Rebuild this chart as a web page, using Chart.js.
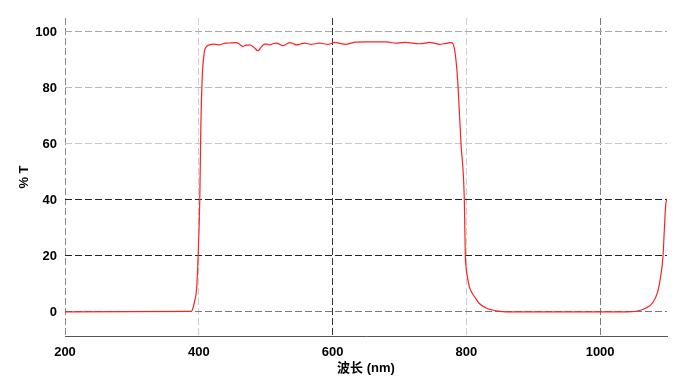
<!DOCTYPE html>
<html>
<head>
<meta charset="utf-8">
<script src="https://cdn.jsdelivr.net/npm/chart.js@4/dist/chart.umd.min.js"></script>
<style>
  html, body { margin: 0; padding: 0; background: #fff; }
  #wrap { width: 699px; height: 383px; position: relative; }
</style>
</head>
<body>
<div id="wrap"><canvas id="specChart"></canvas></div>
<script>
// 波长 (nm)
const wavelengths = [
    200, 389, 391.5, 394, 396.6, 399, 401.5, 403, 405, 408, 411.5, 416, 421, 426, 431, 436, 441, 448,
    456, 461, 466, 471, 476, 482, 488.5, 493, 498.5, 502, 506, 511, 516, 521, 526, 531, 536, 541,
    546, 552, 558, 563, 568, 574, 580.5, 587, 593, 598, 603, 610, 620, 635, 650, 665, 680, 695,
    703, 710, 720, 730, 738, 745, 752, 760, 766, 772, 777, 780, 782, 784.5, 787, 792, 797, 798.5,
    799.5, 802, 804.5, 808, 812, 819, 828, 839, 850, 859, 900, 1000, 1028, 1048, 1060, 1068,
    1078, 1085.5, 1090.5, 1094, 1096, 1098, 1100
];
// %T
const transmittance = [
    0, 0.2, 1.5, 4, 7.9, 19.8, 40, 65, 82.9, 92.4, 94.8, 95.4, 95.7, 95.6, 95.4, 95.8, 96, 96.1,
    96.2, 95.6, 94.8, 95.3, 95.4, 94.6, 93.3, 94.5, 95.7, 95.7, 95.4, 95.8, 96, 95.6, 95.1, 95.7, 96.2, 95.9,
    95.4, 95.7, 96, 95.8, 95.6, 95.8, 96, 95.8, 95.6, 95.9, 96.3, 96, 95.6, 96.4, 96.5, 96.5, 96.5, 96,
    96.2, 96.3, 96, 95.8, 96, 96.3, 96, 95.6, 95.8, 96, 96.2, 95.8, 94.2, 90, 82.9, 60.2, 40, 19.8,
    16.2, 12, 9, 7, 5.5, 3.1, 1.6, 0.7, 0.2, 0.05, 0, 0, 0, 0.1, 0.6, 1.3,
    3.1, 6.7, 12.6, 19.8, 29.3, 38, 40.5
];
const xTicks = [200, 400, 600, 800, 1000];
const yTicks = [0, 20, 40, 60, 80, 100];

// grid line colours per tick
const xGridColors = { 200: '#8a8a8a', 400: '#cfcfcf', 600: '#333333', 800: '#cfcfcf', 1000: '#7a7a7a' };
const yGridColors = { 0: '#7a7a7a', 20: '#222222', 40: '#222222', 60: '#c8c8c8', 80: '#b8b8b8', 100: '#a8a8a8' };

const labelFont = { family: "'Liberation Sans', Arial, sans-serif", size: 13, weight: 'bold' };
const titleFont = { family: "'Liberation Sans', Arial, 'Noto Sans CJK SC', sans-serif", size: 13, weight: 'bold' };

const points = wavelengths.map((w, i) => ({ x: w, y: transmittance[i] }));

const ctx = document.getElementById('specChart').getContext('2d');
const specChart = new Chart(ctx, {
    type: 'line',
    data: {
        datasets: [{
            data: points,
            borderColor: '#ff2020',
            borderWidth: 1.2,
            pointRadius: 0,
            cubicInterpolationMode: 'monotone',
            fill: false
        }]
    },
    options: {
        responsive: true,
        maintainAspectRatio: false,
        animation: false,
        layout: { padding: { left: 0, right: 32, top: 18, bottom: 0 } },
        plugins: {
            legend: { display: false },
            tooltip: { enabled: false }
        },
        scales: {
            x: {
                type: 'linear',
                min: 200,
                max: 1100,
                afterBuildTicks: s => { s.ticks = xTicks.map(v => ({ value: v })); },
                afterFit: s => { s.height = 47; },
                ticks: { color: '#000', font: labelFont, padding: 9, maxRotation: 0, callback: v => String(v) },
                grid: {
                    drawTicks: false,
                    lineWidth: 1,
                    color: c => xGridColors[c.tick && c.tick.value] || 'rgba(0,0,0,0)'
                },
                border: { display: true, color: '#555', width: 1, dash: [7, 3] },
                title: { display: true, text: '波长 (nm)', color: '#000', font: titleFont, padding: { top: 0, bottom: 7 } }
            },
            y: {
                min: -8.6,
                max: 105,
                afterBuildTicks: s => { s.ticks = yTicks.map(v => ({ value: v })); },
                afterFit: s => { s.width = 65; },
                ticks: { color: '#000', font: labelFont, padding: 8 },
                grid: {
                    drawTicks: false,
                    lineWidth: 1,
                    color: c => yGridColors[c.tick && c.tick.value] || 'rgba(0,0,0,0)'
                },
                border: { display: false, dash: [7, 3] },
                title: { display: true, text: '% T', color: '#000', font: titleFont, padding: { top: 17, bottom: 0 } }
            }
        }
    }
});
</script>
</body>
</html>
